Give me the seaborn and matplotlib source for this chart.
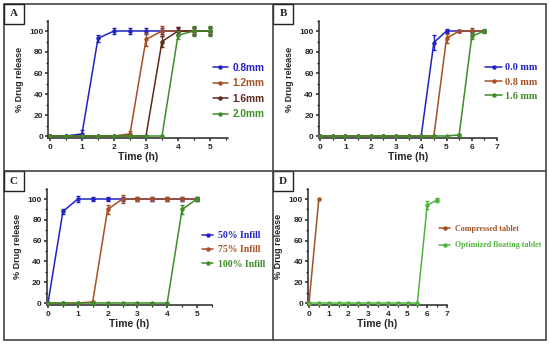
"""
Drug release profiles for the four floating tablet designs (panels A-D)
"""

import numpy as np
import matplotlib
matplotlib.use('Agg')
import matplotlib.pyplot as plt
from matplotlib.patches import Rectangle
from matplotlib.lines import Line2D
from matplotlib.ticker import MultipleLocator
import seaborn as sns

W, H = 550, 344

# ---- Panel A: shell thickness ----
time_a = [0, 0.5, 1, 1.5, 2, 2.5, 3, 3.5, 4, 4.5, 5]
a_08 = [0, 0, 2, 93, 100, 100, 100, 100, 100, 100, 100]
a_08_err = [0, 0, 4, 3, 3, 3, 3, 3, 3, 3, 3]
a_12 = [0, 0, 0, 0, 0, 2, 92, 100, 100, 100, 100]
a_12_err = [0, 0, 0, 0, 0, 3, 6, 5, 4, 3, 3]
a_16 = [0, 0, 0, 0, 0, 0, 0, 90, 100, 100, 100]
a_16_err = [0, 0, 0, 0, 0, 0, 0, 5, 4, 4, 4]
a_20 = [0, 0, 0, 0, 0, 0, 0, 0, 96, 100, 100]
a_20_err = [0, 0, 0, 0, 0, 0, 0, 0, 4, 5, 5]
labels_a = ['0.8mm', '1.2mm', '1.6mm', '2.0mm']

# ---- Panel B: lid thickness ----
time_b = [0, 0.5, 1, 1.5, 2, 2.5, 3, 3.5, 4, 4.5, 5, 5.5, 6, 6.5]
b_00 = [0, 0, 0, 0, 0, 0, 0, 0, 0, 89, 100, 100, 100, 100]
b_00_err = [0, 0, 0, 0, 0, 0, 0, 0, 0, 7, 2, 1, 1, 1]
b_08 = [0, 0, 0, 0, 0, 0, 0, 0, 0, 0, 93, 100, 100, 100]
b_08_err = [0, 0, 0, 0, 0, 0, 0, 0, 0, 0, 4, 1, 3, 1]
b_16 = [0, 0, 0, 0, 0, 0, 0, 0, 0, 0, 0, 1, 95, 100]
b_16_err = [0, 0, 0, 0, 0, 0, 0, 0, 0, 0, 0, 1, 3, 2]
labels_b = ['0.0 mm', '0.8 mm', '1.6 mm']

# ---- Panel C: infill ----
time_c = [0, 0.5, 1, 1.5, 2, 2.5, 3, 3.5, 4, 4.5, 5]
c_50 = [0, 88, 100, 100, 100, 100, 100, 100, 100, 100, 100]
c_50_err = [0, 2, 3, 2, 2, 2, 2, 2, 2, 2, 2]
c_75 = [0, 0, 0, 1, 90, 100, 100, 100, 100, 100, 100]
c_75_err = [0, 0, 0, 1, 4, 4, 2, 2, 2, 2, 2]
c_100 = [0, 0, 0, 0, 0, 0, 0, 0, 0, 90, 100]
c_100_err = [0, 0, 0, 0, 0, 0, 0, 0, 0, 4, 2]
labels_c = ['50% Infill', '75% Infill', '100% Infill']

# ---- Panel D: compressed vs optimized ----
time_comp = [0, 0.5]
d_comp = [0, 100]
d_comp_err = [0, 0]
time_float = [0, 0.5, 1, 1.5, 2, 2.5, 3, 3.5, 4, 4.5, 5, 5.5, 6, 6.5]
d_float = [0, 0, 0, 0, 0, 0, 0, 0, 0, 0, 0, 0, 94, 99]
d_float_err = [0, 0, 0, 0, 0, 0, 0, 0, 0, 0, 0, 0, 4, 2]
labels_d = ['Compressed tablet', 'Optimized floating tablet']

BLUE = '#2222c4'
BROWN = '#a44f24'
DARK = '#5e2a1c'
GREEN = '#3f8c2a'
LGREEN = '#4fb53c'

sns.set_style('ticks')
plt.rcParams['font.family'] = ['Liberation Sans', 'DejaVu Sans']
plt.rcParams['axes.linewidth'] = 1.1
plt.rcParams['xtick.major.width'] = 1.1
plt.rcParams['ytick.major.width'] = 1.1
plt.rcParams['xtick.minor.width'] = 0.9
plt.rcParams['ytick.minor.width'] = 0.9
plt.rcParams['xtick.major.size'] = 2.5
plt.rcParams['ytick.major.size'] = 2.5
plt.rcParams['xtick.minor.size'] = 1.4
plt.rcParams['ytick.minor.size'] = 1.4
plt.rcParams['xtick.major.pad'] = 1.5
plt.rcParams['ytick.major.pad'] = 1


def add_axes(fig, x0px, xunit, xlim, y0px, y100px, ylim):
    """Place axes so data 0 / 100 land on the given pixel rows/cols"""
    yunit = (y0px - y100px) / 100.0
    left = x0px + xlim[0] * xunit
    right = x0px + xlim[1] * xunit
    top = y0px - ylim[1] * yunit
    bottom = y0px - ylim[0] * yunit
    ax = fig.add_axes([left / W, 1 - bottom / H, (right - left) / W, (bottom - top) / H])
    ax.set_xlim(xlim)
    ax.set_ylim(ylim)
    return ax


def draw_series(ax, t, y, err, color, label):
    sns.lineplot(x=t, y=y, ax=ax, color=color, marker='o', markersize=3.2,
                 markeredgewidth=0, linewidth=1.1, label=label, errorbar=None,
                 clip_on=False, zorder=3)
    t, y, err = np.array(t), np.array(y), np.array(err)
    m = err > 0
    if m.any():
        ax.errorbar(t[m], y[m], yerr=err[m], fmt='none', ecolor=color,
                    elinewidth=1, capsize=1.6, capthick=1, clip_on=False, zorder=3)


def style_axes(ax, xticks):
    ax.set_xticks(xticks)
    ax.set_yticks([0, 20, 40, 60, 80, 100])
    ax.xaxis.set_minor_locator(MultipleLocator(0.5))
    ax.yaxis.set_minor_locator(MultipleLocator(10))
    ax.tick_params(labelsize=6)
    for lab in ax.get_xticklabels() + ax.get_yticklabels():
        lab.set_fontweight('bold')
    ax.set_xlabel('Time (h)', fontsize=7.5, fontweight='bold', labelpad=1)
    ax.set_ylabel('% Drug release', fontsize=6.5, fontweight='bold', labelpad=4)
    sns.despine(ax=ax)


def place_legend(ax, xpx, ypx, fontsize, family, handlelength, textpad, spacing):
    leg = ax.legend(loc='center left', bbox_to_anchor=(xpx / W, 1 - ypx / H),
                    bbox_transform=ax.figure.transFigure, frameon=False,
                    borderpad=0, borderaxespad=0, handlelength=handlelength,
                    handletextpad=textpad, labelspacing=spacing,
                    prop={'family': family, 'weight': 'bold', 'size': fontsize})
    for line, text in zip(leg.get_lines(), leg.get_texts()):
        text.set_color(line.get_color())
    return leg


fig = plt.figure(figsize=(W / 100, H / 100), dpi=100)

# Panel A
ax = add_axes(fig, 50, 32.0, (-0.05, 5.55), 136, 31, (-2, 110))
for y, e, c, lab in zip([a_08, a_12, a_16, a_20], [a_08_err, a_12_err, a_16_err, a_20_err],
                        [BLUE, BROWN, DARK, GREEN], labels_a):
    draw_series(ax, time_a, y, e, c, lab)
style_axes(ax, [0, 1, 2, 3, 4, 5])
place_legend(ax, 213, 91, 7.3, ['Liberation Sans'], 1.45, 0.5, 0.55)

# Panel B
ax = add_axes(fig, 320, 25.3, (-0.05, 7.0), 136, 31, (-2, 110))
for y, e, c, lab in zip([b_00, b_08, b_16], [b_00_err, b_08_err, b_16_err],
                        [BLUE, BROWN, GREEN], labels_b):
    draw_series(ax, time_b, y, e, c, lab)
style_axes(ax, [0, 1, 2, 3, 4, 5, 6, 7])
place_legend(ax, 485, 82, 7.3, ['Liberation Serif'], 1.7, 0.3, 0.5)

# Panel C
ax = add_axes(fig, 48, 29.8, (-0.05, 5.5), 303, 199, (-2, 110))
for y, e, c, lab in zip([c_50, c_75, c_100], [c_50_err, c_75_err, c_100_err],
                        [BLUE, BROWN, GREEN], labels_c):
    draw_series(ax, time_c, y, e, c, lab)
style_axes(ax, [0, 1, 2, 3, 4, 5])
place_legend(ax, 202, 250, 7.0, ['Liberation Serif'], 1.15, 0.5, 0.55)

# Panel D
ax = add_axes(fig, 309, 19.7, (-0.05, 7.0), 303, 199, (-2, 110))
draw_series(ax, time_comp, d_comp, d_comp_err, BROWN, labels_d[0])
draw_series(ax, time_float, d_float, d_float_err, LGREEN, labels_d[1])
style_axes(ax, [0, 1, 2, 3, 4, 5, 6, 7])
place_legend(ax, 439, 237, 5.8, ['Liberation Serif'], 1.4, 0.6, 1.1)

# panel frames and letter boxes
px = lambda x, y: (x / W, 1 - y / H)
fig.add_artist(Rectangle(px(4, 340), 542 / W, 336 / H, transform=fig.transFigure,
                         fill=False, edgecolor='#444444', linewidth=1.2))
fig.add_artist(Line2D([273 / W, 273 / W], [1 - 4 / H, 1 - 340 / H], transform=fig.transFigure,
                      color='#444444', linewidth=1.2))
fig.add_artist(Line2D([4 / W, 546 / W], [1 - 171 / H, 1 - 171 / H], transform=fig.transFigure,
                      color='#444444', linewidth=1.2))
for letter, (bx, by) in zip('ABCD', [(4, 4), (273, 4), (4, 171), (273, 171)]):
    fig.add_artist(Rectangle(px(bx, by + 20), 20 / W, 20 / H, transform=fig.transFigure,
                             fill=False, edgecolor='#222222', linewidth=1.0))
    fig.text((bx + 10) / W, 1 - (by + 10) / H, letter, ha='center', va='center',
             fontsize=8, fontweight='bold', family=['Liberation Serif'])

plt.savefig('out.png', dpi=100)
plt.close()
